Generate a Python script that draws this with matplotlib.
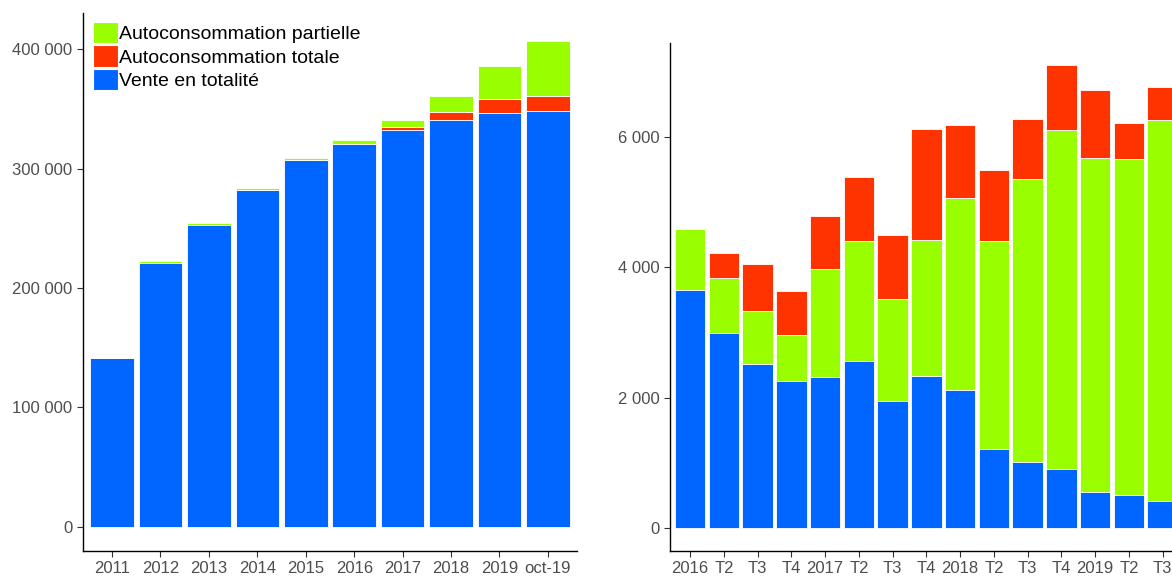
import numpy as np
import matplotlib.pyplot as plt
from matplotlib.patches import Patch
from matplotlib.ticker import FuncFormatter

plt.rcParams['font.family'] = ['Liberation Sans', 'DejaVu Sans']

## annual data (left)
years = ['2011', '2012', '2013', '2014', '2015', '2016', '2017', '2018', '2019', 'oct-19']
vente_an = [141500, 221100, 252700, 282300, 307000, 320400, 332600, 340700, 346400, 348500]
totale_an = [0, 0, 0, 0, 0, 0, 2300, 7000, 11700, 12400]
partielle_an = [0, 1200, 1400, 1200, 2100, 3800, 5800, 13200, 28200, 45800]

## quarterly data (right)
quarters = ['2016', 'T2', 'T3', 'T4', '2017', 'T2', 'T3', 'T4',
            '2018', 'T2', 'T3', 'T4', '2019', 'T2', 'T3']
vente_tr = [3650, 2985, 2520, 2260, 2315, 2555, 1940, 2330, 2110, 1215, 1005, 900, 545, 505, 415]
partielle_tr = [930, 850, 800, 705, 1650, 1840, 1565, 2080, 2950, 3180, 4340, 5200, 5130, 5150, 5835]
totale_tr = [0, 375, 720, 670, 820, 985, 980, 1710, 1110, 1095, 920, 990, 1040, 555, 505]

BLUE = '#0066FF'
RED = '#FF3300'
GREEN = '#99FF00'
TXT = '#4D4D4D'


def fmt(v, pos):
    return '{:,}'.format(int(v)).replace(',', ' ')


def stacked(ax, labels, layers):
    # layers: list of (values, colour), from bottom to top
    x = np.arange(len(labels))
    bottom = np.zeros(len(labels))
    kw = dict(width=0.9, edgecolor='white', linewidth=0.6)
    for vals, col in layers:
        vals = np.array(vals)
        ax.bar(x, vals, bottom=bottom, color=col, **kw)
        bottom = bottom + vals
    ax.set_xticks(x)
    ax.set_xticklabels(labels)
    ax.set_xlim(-0.6, len(labels) - 0.4)
    ax.yaxis.set_major_formatter(FuncFormatter(fmt))
    for s in ['top', 'right']:
        ax.spines[s].set_visible(False)
    for s in ['left', 'bottom']:
        ax.spines[s].set_linewidth(1.0)
        ax.spines[s].set_color('black')
    ax.tick_params(axis='both', labelsize=12, labelcolor=TXT, color='#333333',
                   length=4, width=0.8, direction='out')


fig = plt.figure(figsize=(11.72, 5.78), dpi=100)

ax1 = fig.add_axes([0.0708, 0.0472, 0.4215, 0.9308])
stacked(ax1, years, [(vente_an, BLUE), (totale_an, RED), (partielle_an, GREEN)])
ax1.set_ylim(-20300, 430700)
ax1.set_yticks([0, 100000, 200000, 300000, 400000])

# right panel is cut by the figure edge, like the original
ax2 = fig.add_axes([0.5716, 0.0472, 0.4377, 0.8779])
stacked(ax2, quarters, [(vente_tr, BLUE), (partielle_tr, GREEN), (totale_tr, RED)])
ax2.set_ylim(-348, 7430)
ax2.set_yticks([0, 2000, 4000, 6000])

handles = [Patch(facecolor=GREEN, edgecolor='white', linewidth=0.8),
           Patch(facecolor=RED, edgecolor='white', linewidth=0.8),
           Patch(facecolor=BLUE, edgecolor='white', linewidth=0.8)]
names = ['Autoconsommation partielle', 'Autoconsommation totale', 'Vente en totalité']
ax1.legend(handles, names, loc='upper left', bbox_to_anchor=(0.02, 0.983),
           frameon=False, fontsize=14, handlelength=1.3, handleheight=1.3,
           handletextpad=0.05, labelspacing=0.12, borderpad=0, borderaxespad=0)

plt.savefig('out.png', dpi=100)
